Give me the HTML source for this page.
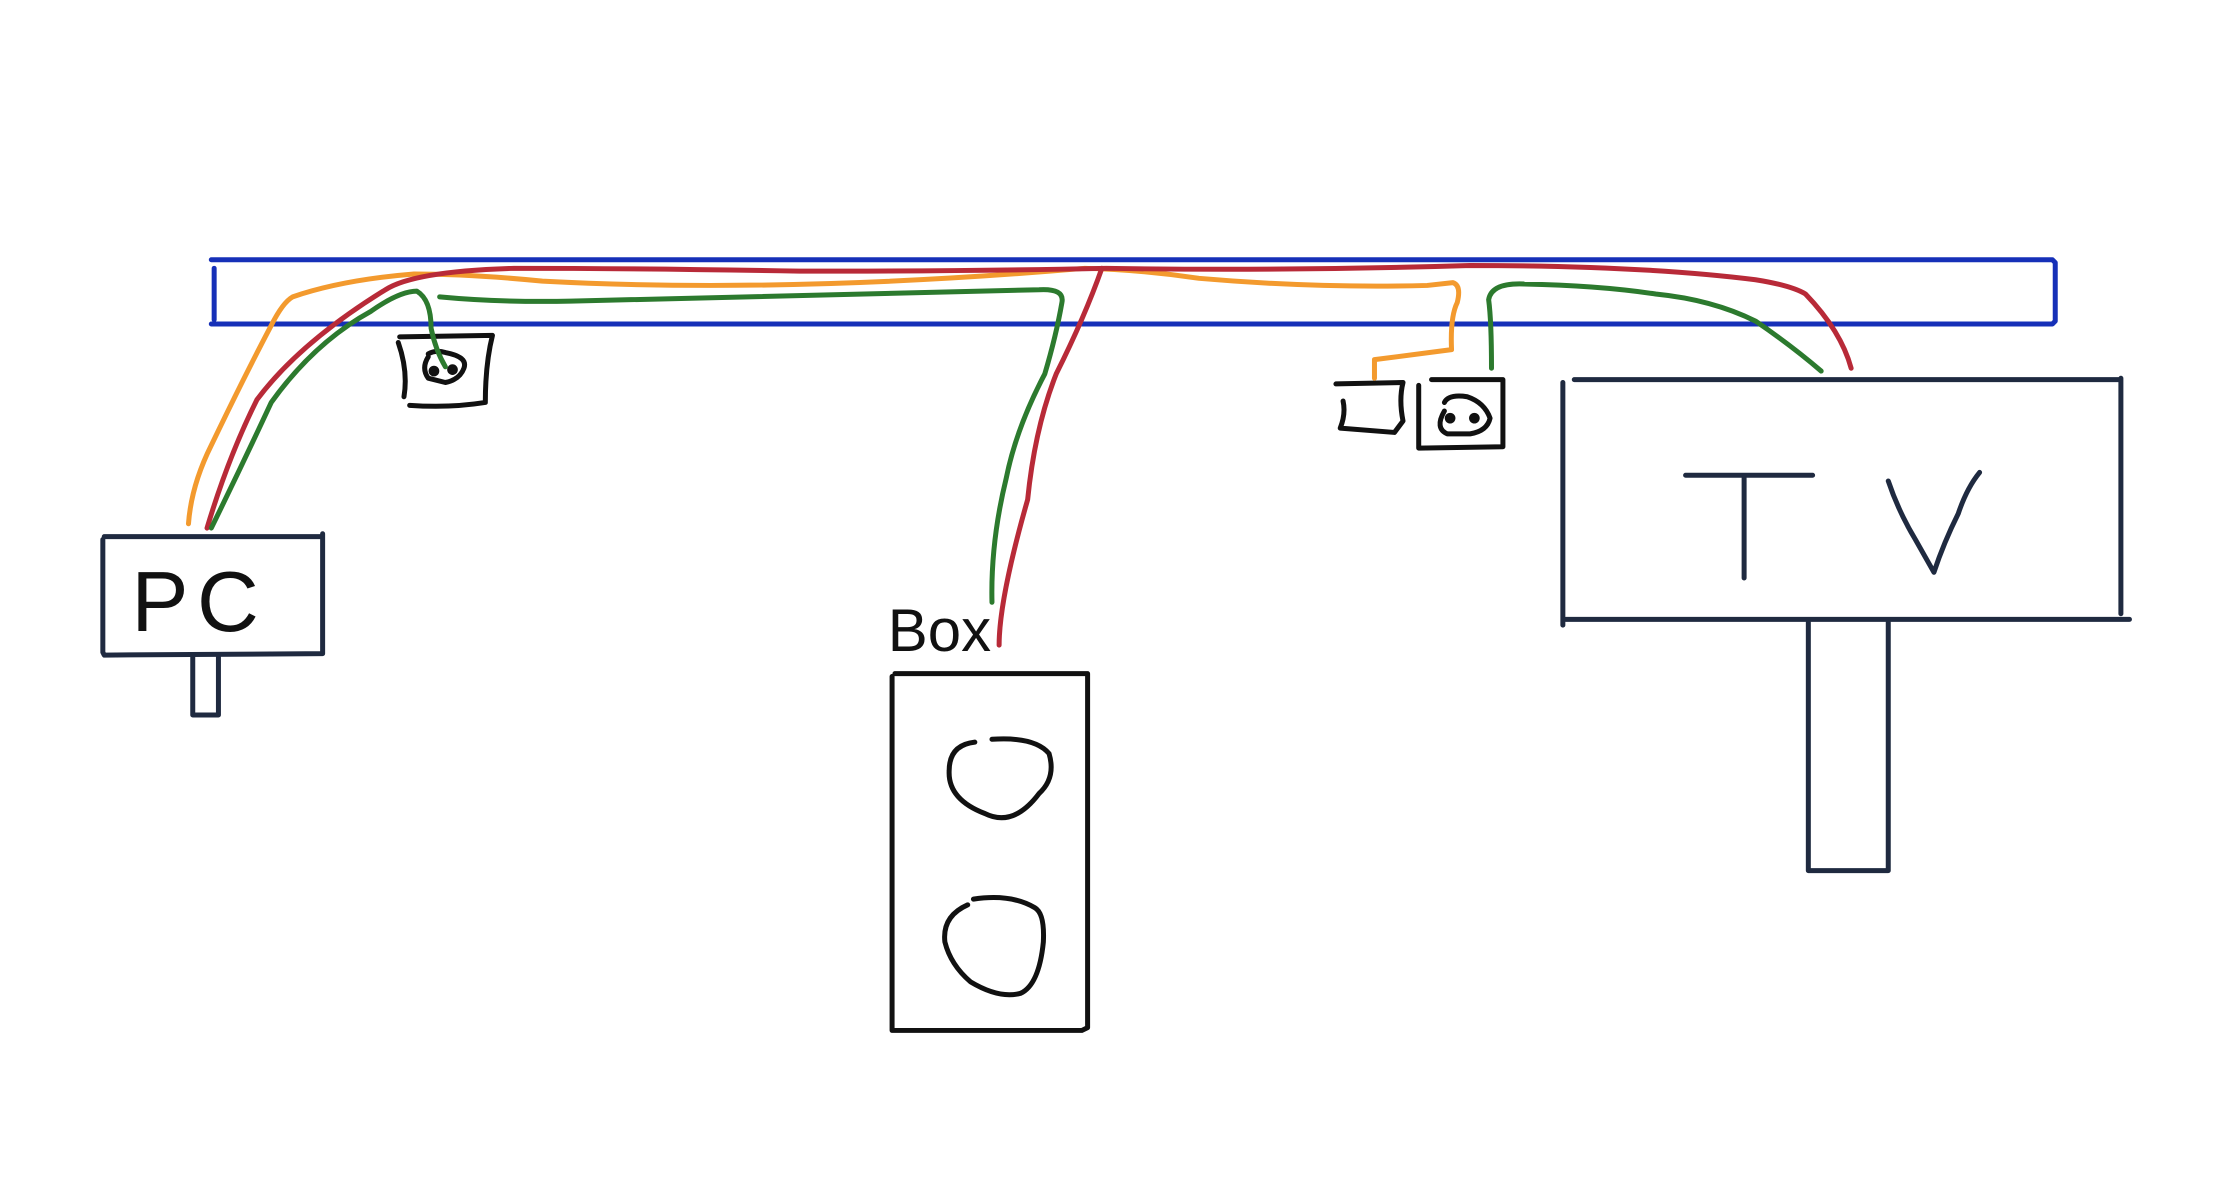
<!DOCTYPE html>
<html><head><meta charset="utf-8"><style>
html,body{margin:0;padding:0;background:#fff;width:2238px;height:1186px;overflow:hidden}
svg{display:block}
</style></head><body>
<svg width="2238" height="1186" viewBox="0 0 1568 831" xmlns="http://www.w3.org/2000/svg" fill="none" stroke-linecap="round" stroke-linejoin="round">
<g stroke="#1630b8" stroke-width="3.5">
<path d="M148 182 L1438 182 L1440 184 L1440 225 L1438 227 L148 227"/>
<path d="M150 188 L150 224"/>
</g>
<g stroke="#1f2a40" stroke-width="3.5">
<path d="M73 376 L226 376 M226 374 L226 458 L73 459 L72 457 L72 378"/>
<path d="M135 460 L135 501 L153 501 L153 460"/>
</g>
<text x="92" y="442" font-family="Liberation Sans, sans-serif" font-size="60" font-weight="300" fill="#111" letter-spacing="6">PC</text>
<g stroke="#1f2a40" stroke-width="3.5">
<path d="M1095 268 L1095 438"/>
<path d="M1103 266 L1485 266 M1486 265 L1486 430"/>
<path d="M1097 434 L1492 434"/>
<path d="M1267 436 L1267 610 L1323 610 L1323 436"/>
<path d="M1181 333 L1270 333 M1222 335 L1222 405"/>
<path d="M1323 337 Q1330 358 1342 378 L1355 401 Q1362 380 1372 360 Q1378 342 1387 331"/>
</g>
<g stroke="#111" stroke-width="3.5">
<path d="M627 472 L762 472 L762 720 L758 722 L625 722 L625 474"/>
<path d="M683 520 Q665 522 665 540 Q664 560 690 570 Q710 580 728 556 Q740 545 735 528 Q725 516 695 518"/>
<path d="M678 634 Q660 642 662 660 Q666 676 680 688 Q700 700 715 696 Q728 690 731 660 Q732 640 725 636 Q708 626 682 630"/>
</g>
<text x="622" y="456" font-family="Liberation Sans, sans-serif" font-size="42" font-weight="300" fill="#111">Box</text>
<g stroke="#111" stroke-width="3.5">
<path d="M280 236 L345 235 Q340 255 340 282 Q315 286 287 284"/>
<path d="M279 240 Q286 260 283 278"/>
<path d="M300 250 Q295 258 300 265 L312 268 Q322 266 325 258 Q328 250 312 247 Q305 245 300 248"/>
<circle cx="304" cy="260" r="2" fill="#111"/><circle cx="317" cy="259" r="2" fill="#111"/>
</g>
<g stroke="#111" stroke-width="3.5">
<path d="M936 269 L983 268 Q980 280 983 295 L977 303 L939 300 Q943 290 941 281"/>
<path d="M1003 266 L1053 266 L1053 313 L994 314 L994 270"/>
<path d="M1012 288 Q1005 300 1014 304 L1030 304 Q1042 302 1044 293 Q1040 282 1028 278 Q1015 276 1012 282"/>
<circle cx="1016" cy="293" r="2" fill="#111"/><circle cx="1033" cy="293" r="2" fill="#111"/>
</g>
<g stroke-width="3.5">
<path stroke="#f39a2e" d="M132 367 Q134 340 148 312 Q172 262 190 228 Q198 212 205 208 Q240 196 290 192 Q330 192 380 197 Q550 206 760 188 Q800 189 840 195 Q920 202 1000 200 L1018 198 Q1024 200 1021 212 Q1016 222 1017 245 L963 252 L963 265"/>
<path stroke="#b82a38" d="M145 370 Q160 320 180 280 Q210 240 270 203 Q290 190 360 188 Q450 188 560 190 Q680 190 775 188 Q900 190 1030 186 Q1150 186 1230 196 Q1255 200 1265 206 Q1290 232 1297 258"/>
<path stroke="#b82a38" d="M772 188 Q760 222 740 262 Q725 300 720 350 Q700 420 700 452"/>
<path stroke="#2c7a2e" d="M148 370 Q170 325 190 282 Q220 240 260 218 Q280 204 292 204 Q302 210 302 230 Q305 245 312 257"/>
<path stroke="#2c7a2e" d="M308 208 Q350 212 400 211 Q600 206 728 203 Q746 202 744 212 Q740 235 732 262 Q712 300 705 335 Q694 380 695 422"/>
<path stroke="#2c7a2e" d="M1045 258 Q1045 225 1043 210 Q1045 198 1068 199 Q1120 200 1160 206 Q1200 210 1230 225 Q1255 242 1276 260"/>
</g>
</svg>
</body></html>
